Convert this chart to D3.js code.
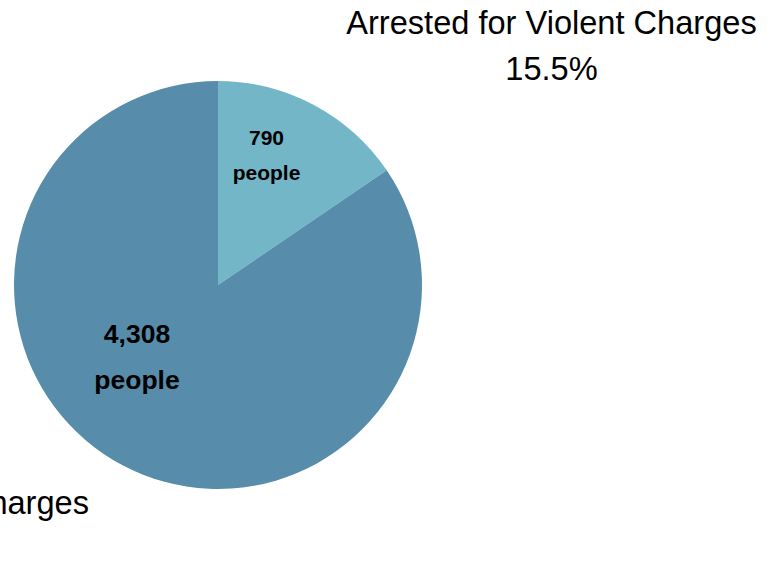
<!DOCTYPE html>
<meta charset="utf-8">
<style>
body { margin: 0; background: #fff; }
svg { display: block; }
text { font-family: "Liberation Sans", Arial, sans-serif; fill: #000; }
.outer { font-size: 32.6px; }
.inner { font-weight: bold; }
</style>
<body>
<script src="https://cdn.jsdelivr.net/npm/d3@7"></script>
<script>

var categories = ["Arrested for Violent Charges", "Arrested for Non-Violent Charges"];
var counts = [790, 4308];
var colors = ["#72b6c8", "#578dab"];

var width = 778,
    height = 562,
    cx = 218,
    cy = 285,
    radius = 204;

var svg = d3.select("body").append("svg")
    .attr("width", width)
    .attr("height", height);

var total = d3.sum(counts);
var data = categories.map(function(c, i) { return {name: c, value: counts[i], color: colors[i]}; });

var pie = d3.pie()
    .sort(null)
    .value(function(d) { return d.value; });

var arc = d3.arc()
    .innerRadius(0)
    .outerRadius(radius);

var g = svg.append("g")
    .attr("transform", "translate(" + cx + "," + cy + ")");

g.selectAll("path")
    .data(pie(data))
  .enter().append("path")
    .attr("d", arc)
    .attr("fill", function(d) { return d.data.color; });

// count labels inside the slices (placement)
var inner = [
  {x: 48.5, y: -140, size: 21, gap: 35},
  {x: -81, y: 58, size: 26.5, gap: 46}
];

var fmt = d3.format(",");
var pct = d3.format(".1%");

data.forEach(function(d, i) {
  var p = inner[i];
  var t = g.append("text")
      .attr("class", "inner")
      .attr("text-anchor", "middle")
      .style("font-size", p.size + "px");
  t.append("tspan").attr("x", p.x).attr("y", p.y).text(fmt(d.value));
  t.append("tspan").attr("x", p.x).attr("y", p.y + p.gap).text("people");
});

// outside labels: name and share
var outer = [
  {x: 551.5, y: 34, anchor: "middle"},
  {x: 89, y: 514, anchor: "end"}
];

data.forEach(function(d, i) {
  var p = outer[i];
  var t = svg.append("text")
      .attr("class", "outer")
      .attr("text-anchor", "middle");
  var l1 = t.append("tspan").attr("y", p.y).text(d.name);
  var mid = p.x;
  if (p.anchor === "end") mid = p.x - l1.node().getComputedTextLength() / 2;
  l1.attr("x", mid);
  t.append("tspan").attr("x", mid).attr("y", p.y + 46).text(pct(d.value / total));
});

</script>
</body>
